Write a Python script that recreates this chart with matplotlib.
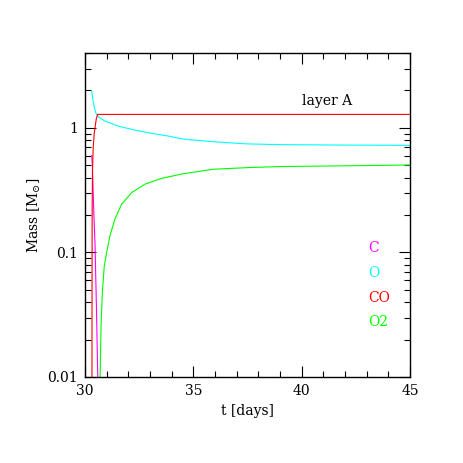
import matplotlib
matplotlib.use("Agg")
import matplotlib.pyplot as plt
from matplotlib.ticker import FixedLocator, LogLocator, NullFormatter, MultipleLocator

plt.rcParams['font.family'] = 'DejaVu Serif'
plt.rcParams['mathtext.fontset'] = 'dejavuserif'

# values (t in days, mass in solar masses)
t_c = [30.31, 30.34, 30.41, 30.46, 30.53, 30.6]
m_c = [0.6, 0.5, 0.2, 0.12, 0.035, 0.008]

t_o = [30.31, 30.38, 30.49, 30.61, 30.92, 31.54, 32.31, 33.08, 33.85, 34.5,
       35.92, 37.46, 39.0, 41.3, 45.0]
m_o = [1.98, 1.6, 1.33, 1.23, 1.135, 1.035, 0.96, 0.905, 0.861, 0.815,
       0.775, 0.745, 0.735, 0.73, 0.725]

t_co = [30.32, 30.325, 30.33, 30.345, 30.38, 30.42, 30.46, 30.52, 30.58, 45.0]
m_co = [0.005, 0.05, 0.2, 0.45, 0.7, 0.88, 1.0, 1.18, 1.285, 1.285]

t_o2 = [30.69, 30.74, 30.80, 30.89, 31.0, 31.15, 31.38, 31.69, 32.16, 32.77,
        33.54, 34.5, 35.92, 37.46, 39.0, 41.3, 45.0]
m_o2 = [0.008, 0.0258, 0.0478, 0.078, 0.100, 0.136, 0.185, 0.244, 0.303, 0.354,
        0.394, 0.428, 0.466, 0.48, 0.49, 0.495, 0.504]

species = ["C", "O", "CO", "O2"]
colors = ["#ff00ff", "#00ffff", "#ff0000", "#00ff00"]
series = [(t_c, m_c), (t_o, m_o), (t_co, m_co), (t_o2, m_o2)]

fig = plt.figure(figsize=(4.63, 4.63), dpi=100)
ax = fig.add_axes([85 / 463, 1 - 377 / 463, 325 / 463, 324 / 463])

for (t, m), c in zip(series, colors):
    ax.plot(t, m, color=c, lw=0.8)

ax.set_yscale('log')
ax.set_xlim(30, 45)
ax.set_ylim(0.01, 4.0)

ax.xaxis.set_major_locator(MultipleLocator(5))
ax.xaxis.set_minor_locator(MultipleLocator(1))
ax.yaxis.set_major_locator(FixedLocator([0.01, 0.1, 1]))
ax.set_yticklabels(["0.01", "0.1", "1"])
ax.yaxis.set_minor_locator(LogLocator(base=10, subs=range(2, 10)))
ax.yaxis.set_minor_formatter(NullFormatter())

ax.tick_params(which='both', direction='in', top=True, right=True, labelsize=10, width=0.8)
ax.tick_params(which='major', length=8, pad=5)
ax.tick_params(which='minor', length=4.5)
for s in ax.spines.values():
    s.set_linewidth(1.0)

ax.set_xlabel("t [days]", fontsize=10, labelpad=4)
ax.set_ylabel(r"Mass [M$_{\odot}$]", fontsize=10, labelpad=3)

ax.text(0.668, 0.852, "layer A", transform=ax.transAxes, fontsize=10, ha='left', va='center')

legend_y = [0.398, 0.321, 0.244, 0.170]
for name, c, y in zip(species, colors, legend_y):
    ax.text(0.871, y, name, color=c, transform=ax.transAxes, fontsize=10, ha='left', va='center')

fig.savefig("out.png", dpi=100)
